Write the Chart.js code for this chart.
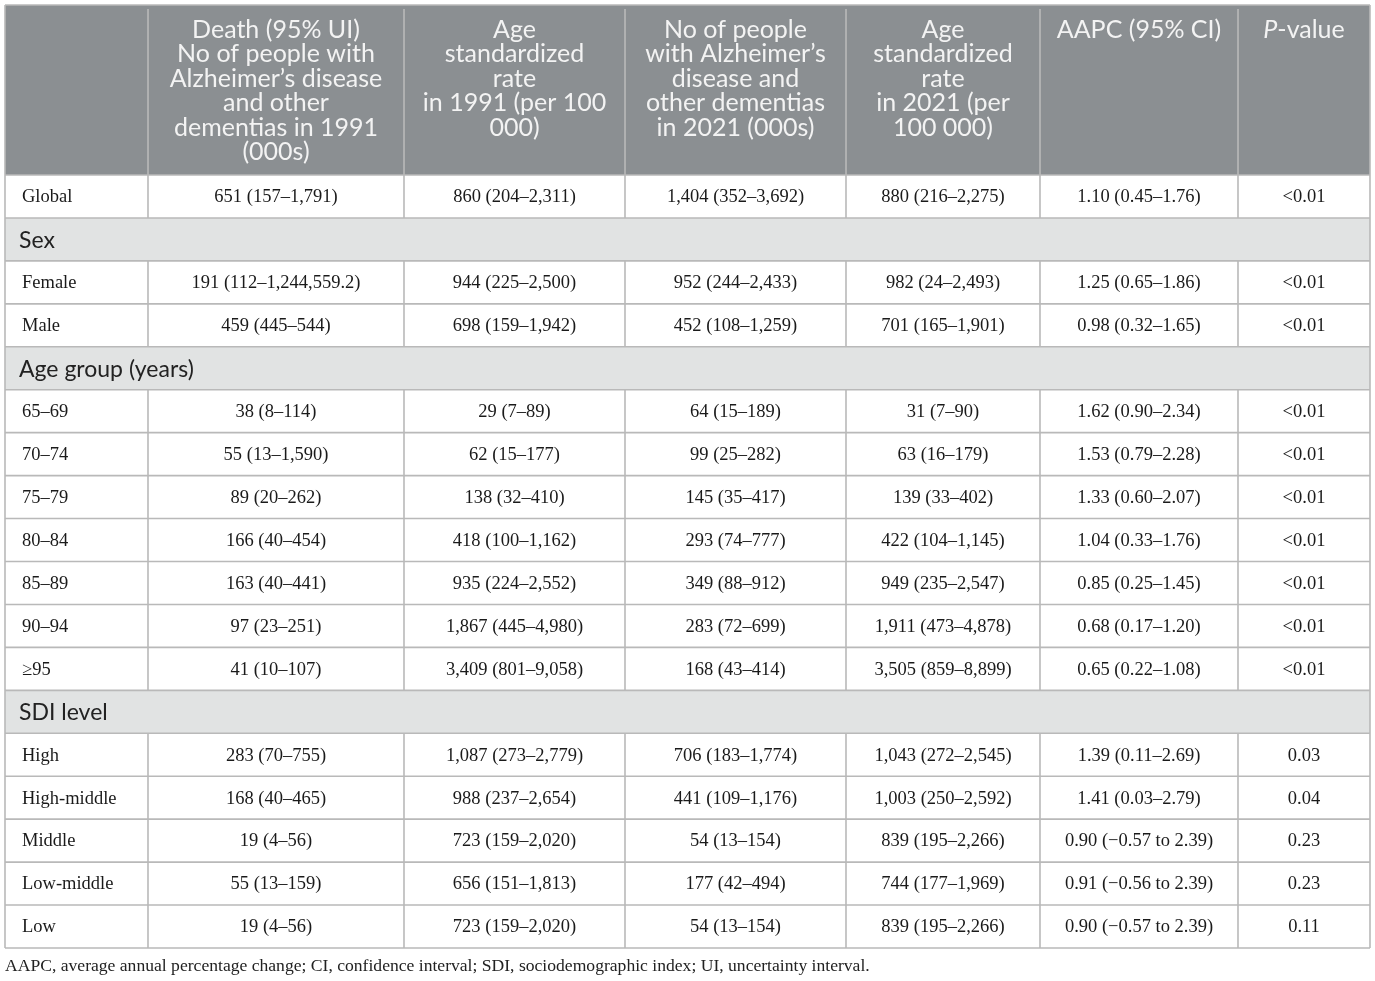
<!DOCTYPE html>
<html>
<head>
<meta charset="utf-8">
<script src="https://cdn.jsdelivr.net/npm/chart.js@4.4.1/dist/chart.umd.min.js"></script>
<style>
html,body{margin:0;padding:0;background:#fff;}
#wrap{width:1375px;height:981px;}
</style>
</head>
<body>
<div id="wrap"><canvas id="c" width="1375" height="981"></canvas></div>
<script>
// ---------- DATA ----------
const columnHeaders = [
  [],
  ["Death (95% UI)", "No of people with", "Alzheimer\u2019s disease", "and other", "dementias in 1991", "(000s)"],
  ["Age", "standardized", "rate", "in 1991 (per 100", "000)"],
  ["No of people", "with Alzheimer\u2019s", "disease and", "other dementias", "in 2021 (000s)"],
  ["Age", "standardized", "rate", "in 2021 (per", "100 000)"],
  ["AAPC (95% CI)"],
  ["P-value"]
];
const rowLabels = ["Global", "Sex", "Female", "Male", "Age group (years)", "65\u201369", "70\u201374", "75\u201379", "80\u201384", "85\u201389", "90\u201394", "\u226595", "SDI level", "High", "High-middle", "Middle", "Low-middle", "Low"];
const sectionRows = ["Sex", "Age group (years)", "SDI level"];
const deaths1991 = ["651 (157\u20131,791)", null, "191 (112\u20131,244,559.2)", "459 (445\u2013544)", null, "38 (8\u2013114)", "55 (13\u20131,590)", "89 (20\u2013262)", "166 (40\u2013454)", "163 (40\u2013441)", "97 (23\u2013251)", "41 (10\u2013107)", null, "283 (70\u2013755)", "168 (40\u2013465)", "19 (4\u201356)", "55 (13\u2013159)", "19 (4\u201356)"];
const asr1991 = ["860 (204\u20132,311)", null, "944 (225\u20132,500)", "698 (159\u20131,942)", null, "29 (7\u201389)", "62 (15\u2013177)", "138 (32\u2013410)", "418 (100\u20131,162)", "935 (224\u20132,552)", "1,867 (445\u20134,980)", "3,409 (801\u20139,058)", null, "1,087 (273\u20132,779)", "988 (237\u20132,654)", "723 (159\u20132,020)", "656 (151\u20131,813)", "723 (159\u20132,020)"];
const cases2021 = ["1,404 (352\u20133,692)", null, "952 (244\u20132,433)", "452 (108\u20131,259)", null, "64 (15\u2013189)", "99 (25\u2013282)", "145 (35\u2013417)", "293 (74\u2013777)", "349 (88\u2013912)", "283 (72\u2013699)", "168 (43\u2013414)", null, "706 (183\u20131,774)", "441 (109\u20131,176)", "54 (13\u2013154)", "177 (42\u2013494)", "54 (13\u2013154)"];
const asr2021 = ["880 (216\u20132,275)", null, "982 (24\u20132,493)", "701 (165\u20131,901)", null, "31 (7\u201390)", "63 (16\u2013179)", "139 (33\u2013402)", "422 (104\u20131,145)", "949 (235\u20132,547)", "1,911 (473\u20134,878)", "3,505 (859\u20138,899)", null, "1,043 (272\u20132,545)", "1,003 (250\u20132,592)", "839 (195\u20132,266)", "744 (177\u20131,969)", "839 (195\u20132,266)"];
const aapc = ["1.10 (0.45\u20131.76)", null, "1.25 (0.65\u20131.86)", "0.98 (0.32\u20131.65)", null, "1.62 (0.90\u20132.34)", "1.53 (0.79\u20132.28)", "1.33 (0.60\u20132.07)", "1.04 (0.33\u20131.76)", "0.85 (0.25\u20131.45)", "0.68 (0.17\u20131.20)", "0.65 (0.22\u20131.08)", null, "1.39 (0.11\u20132.69)", "1.41 (0.03\u20132.79)", "0.90 (\u22120.57 to 2.39)", "0.91 (\u22120.56 to 2.39)", "0.90 (\u22120.57 to 2.39)"];
const pValues = ["<0.01", null, "<0.01", "<0.01", null, "<0.01", "<0.01", "<0.01", "<0.01", "<0.01", "<0.01", "<0.01", null, "0.03", "0.04", "0.23", "0.23", "0.11"];
const footnote = "AAPC, average annual percentage change; CI, confidence interval; SDI, sociodemographic index; UI, uncertainty interval.";

// ---------- LAYOUT (styling, not data) ----------
const colEdges = [5, 148, 404, 625, 846, 1040, 1238, 1370];
const tableTop = 5, headerBottom = 175, tableBottom = 948;
const headerBg = "#8b8f92", sectionBg = "#e1e3e3", lineColor = "#b9b9b9";
const headerFont = "25px Lato", bodyFont = "18.5px 'Liberation Serif'", sectionFont = "23px Lato";

const valueColumns = [deaths1991, asr1991, cases2021, asr2021, aapc, pValues];

const tablePlugin = {
  id: "tablePlugin",
  afterDraw(chart) {
    const ctx = chart.ctx, xs = chart.scales.x, ys = chart.scales.y;
    const X = v => xs.getPixelForValue(v), Y = v => ys.getPixelForValue(v);
    const nRows = rowLabels.length;
    const rowH = (tableBottom - headerBottom) / nRows;
    const rowTop = i => headerBottom + i * rowH;
    ctx.save();
    ctx.fillStyle = headerBg;
    ctx.fillRect(X(colEdges[0]), Y(tableTop), X(colEdges[7]) - X(colEdges[0]), Y(headerBottom) - Y(tableTop));
    rowLabels.forEach((lab, i) => {
      if (sectionRows.includes(lab)) {
        ctx.fillStyle = sectionBg;
        ctx.fillRect(X(colEdges[0]), Y(rowTop(i)), X(colEdges[7]) - X(colEdges[0]), Y(rowTop(i + 1)) - Y(rowTop(i)));
      }
    });
    ctx.strokeStyle = lineColor;
    ctx.lineWidth = 1.6;
    ctx.beginPath();
    for (let i = 0; i <= nRows; i++) {
      const y = Y(rowTop(i));
      ctx.moveTo(X(colEdges[0]), y); ctx.lineTo(X(colEdges[7]), y);
    }
    ctx.moveTo(X(colEdges[0]), Y(tableTop)); ctx.lineTo(X(colEdges[7]), Y(tableTop));
    colEdges.forEach((cx, j) => {
      if (j === 0 || j === colEdges.length - 1) {
        ctx.moveTo(X(cx), Y(tableTop)); ctx.lineTo(X(cx), Y(tableBottom));
      }
    });
    ctx.stroke();
    ctx.beginPath();
    for (let j = 1; j < colEdges.length - 1; j++) {
      const x = X(colEdges[j]);
      ctx.moveTo(x, Y(tableTop + 4)); ctx.lineTo(x, Y(headerBottom));
      rowLabels.forEach((lab, i) => {
        if (!sectionRows.includes(lab)) {
          ctx.moveTo(x, Y(rowTop(i))); ctx.lineTo(x, Y(rowTop(i + 1)));
        }
      });
    }
    ctx.stroke();
    // header text
    ctx.fillStyle = "#f3f3f3";
    ctx.textBaseline = "middle";
    const lineH = 24.4;
    columnHeaders.forEach((lines, j) => {
      const cx = (X(colEdges[j]) + X(colEdges[j + 1])) / 2;
      lines.forEach((t, k) => {
        const y = Y(30 + k * lineH);
        if (t === "P-value") {
          ctx.font = "italic " + headerFont;
          const w1 = ctx.measureText("P").width;
          ctx.font = headerFont;
          const w2 = ctx.measureText("-value").width;
          const sx = cx - (w1 + w2) / 2;
          ctx.textAlign = "left";
          ctx.font = "italic " + headerFont;
          ctx.fillText("P", sx, y);
          ctx.font = headerFont;
          ctx.fillText("-value", sx + w1, y);
        } else {
          ctx.font = headerFont;
          ctx.textAlign = "center";
          ctx.fillText(t, cx, y);
        }
      });
    });
    // body text
    rowLabels.forEach((lab, i) => {
      const cy = Y(rowTop(i) + rowH / 2 + 1);
      if (sectionRows.includes(lab)) {
        ctx.font = sectionFont;
        ctx.fillStyle = "#222";
        ctx.textAlign = "left";
        ctx.fillText(lab, X(19), cy);
        return;
      }
      ctx.font = bodyFont;
      ctx.fillStyle = "#1a1a1a";
      ctx.textAlign = "left";
      ctx.fillText(lab, X(22), cy);
      ctx.textAlign = "center";
      valueColumns.forEach((col, j) => {
        const v = col[i];
        if (v == null) return;
        const cx = (X(colEdges[j + 1]) + X(colEdges[j + 2])) / 2;
        ctx.fillText(v, cx, cy);
      });
    });
    // footnote
    ctx.font = "17.6px 'Liberation Serif'";
    ctx.fillStyle = "#222";
    ctx.textAlign = "left";
    ctx.fillText(footnote, X(5), Y(966));
    ctx.restore();
  }
};

new Chart(document.getElementById("c"), {
  type: "scatter",
  data: { datasets: [{ data: [], pointRadius: 0 }] },
  options: {
    responsive: false,
    animation: false,
    devicePixelRatio: 1,
    layout: { padding: 0 },
    plugins: { legend: { display: false }, tooltip: { enabled: false }, title: { display: false } },
    scales: {
      x: { type: "linear", min: 0, max: 1375, display: false },
      y: { type: "linear", min: 0, max: 981, reverse: true, display: false }
    }
  },
  plugins: [tablePlugin]
});
</script>
</body>
</html>
